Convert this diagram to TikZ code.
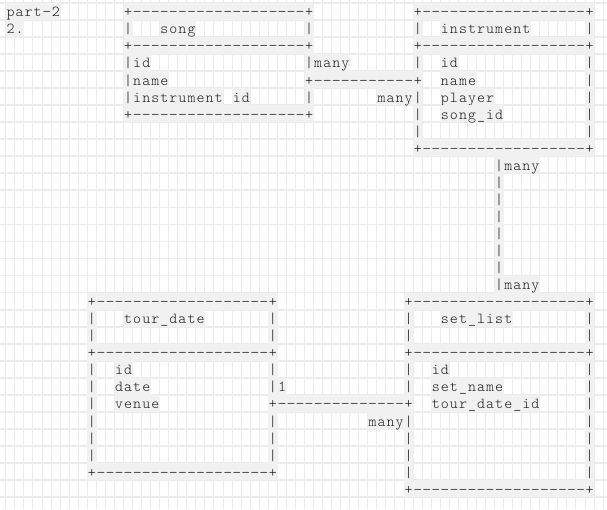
\documentclass[tikz,border=0pt]{standalone}
\usepackage{fontspec}
\usepackage{graphicx}
\font\cellfont="[lmmonolt10-regular]" at 15.2pt
\definecolor{gridc}{HTML}{ECECEC}
\definecolor{band}{HTML}{F1F1F1}
\definecolor{ink}{HTML}{1E1E1E}
\newcommand\cellsA[1]{\ifx\relax#1\else\makebox[9.05pt][c]{#1}\expandafter\cellsA\fi}
\newcommand\cells[1]{\cellsA#1\relax}
\newcommand\dashcells[1]{\ifnum#1>0 \makebox[9.05pt][c]{\scalebox{1.12}[1]{-}}\expandafter\dashcells\expandafter{\the\numexpr#1-1\relax}\fi}
\newcommand\border[1]{\cells{+}\dashcells{#1}\cells{+}}
\newcommand\segnode[4]{\node[seg] (#1) at ({5.8+9.05*#2},{16.8+17.05*#3}) {#4};}
\tikzset{
  seg/.style={anchor=base west, inner sep=0pt, text height=14.03pt, text depth=3.02pt,
    fill=band, text=ink, font=\cellfont},
  gridv/.style={draw=gridc, line width=1pt},
  gridh/.style={draw=gridc, line width=1.7pt}
}
\begin{document}
\begin{tikzpicture}[x=1pt,y=-1pt]
\useasboundingbox (0,0) rectangle (607,509);
\fill[white] (0,0) rectangle (607,509);
% grid paper
\foreach \k in {0,...,66} \draw[gridv] ({5.8+9.05*\k},0) -- ({5.8+9.05*\k},509);
\foreach \r in {-1,...,28} \draw[gridh] (0,{19.825+17.05*\r}) -- (607,{19.825+17.05*\r});
% heading
\segnode{pt}{0}{0}{\cells{part}\dashcells{1}\cells{2}}
\segnode{num}{0}{1}{\cells{2.}}
% song table
\segnode{songTop}{13}{0}{\border{19}}
\segnode{songL1}{13}{1}{\cells{|}}
\segnode{songTitle}{17}{1}{\cells{song}}
\segnode{songR1}{33}{1}{\cells{|}}
\segnode{songMid}{13}{2}{\border{19}}
\segnode{songL3}{13}{3}{\cells{|}}
\segnode{songId}{14}{3}{\cells{id}}
\segnode{songR3}{33}{3}{\cells{|many}}
\segnode{songL4}{13}{4}{\cells{|}}
\segnode{songName}{14}{4}{\cells{name}}
\segnode{linkSI}{33}{4}{\border{11}}
\segnode{songL5}{13}{5}{\cells{|}}
\segnode{songInst}{14}{5}{\cells{instrument}}
\segnode{songInstId}{25}{5}{\cells{id}}
\segnode{songR5}{33}{5}{\cells{|}}
\segnode{manySI}{41}{5}{\cells{many|}}
\segnode{songBot}{13}{6}{\border{19}}
% instrument table
\segnode{instTop}{45}{0}{\border{18}}
\segnode{instL1}{45}{1}{\cells{|}}
\segnode{instTitle}{48}{1}{\cells{instrument}}
\segnode{instR1}{64}{1}{\cells{|}}
\segnode{instMid}{45}{2}{\border{18}}
\segnode{instL3}{45}{3}{\cells{|}}
\segnode{instId}{48}{3}{\cells{id}}
\segnode{instR3}{64}{3}{\cells{|}}
\segnode{instName}{48}{4}{\cells{name}}
\segnode{instR4}{64}{4}{\cells{|}}
\segnode{instPlayer}{48}{5}{\cells{player}}
\segnode{instR5}{64}{5}{\cells{|}}
\segnode{instL6}{45}{6}{\cells{|}}
\segnode{instSong}{48}{6}{\cells{song\_id}}
\segnode{instR6}{64}{6}{\cells{|}}
\segnode{instL7}{45}{7}{\cells{|}}
\segnode{instR7}{64}{7}{\cells{|}}
\segnode{instBot}{45}{8}{\border{18}}
% vertical link instrument - set_list
\segnode{vA}{54}{9}{\cells{|many}}
\foreach \r in {10,...,15} {\segnode{v\r}{54}{\r}{\cells{|}}}
\segnode{vB}{54}{16}{\cells{|many}}
% tour_date table
\segnode{tdTop}{9}{17}{\border{19}}
\segnode{tdL18}{9}{18}{\cells{|}}
\segnode{tdTitle}{13}{18}{\cells{tour\_date}}
\segnode{tdR18}{29}{18}{\cells{|}}
\segnode{tdL19}{9}{19}{\cells{|}}
\segnode{tdR19}{29}{19}{\cells{|}}
\segnode{tdMid}{9}{20}{\border{19}}
\segnode{tdL21}{9}{21}{\cells{|}}
\segnode{tdId}{12}{21}{\cells{id}}
\segnode{tdR21}{29}{21}{\cells{|}}
\segnode{tdL22}{9}{22}{\cells{|}}
\segnode{tdDate}{12}{22}{\cells{date}}
\segnode{tdR22}{29}{22}{\cells{|1}}
\segnode{tdL23}{9}{23}{\cells{|}}
\segnode{tdVenue}{12}{23}{\cells{venue}}
\segnode{linkTS}{29}{23}{\border{14}}
\segnode{tdL24}{9}{24}{\cells{|}}
\segnode{tdR24}{29}{24}{\cells{|}}
\segnode{manyTS}{40}{24}{\cells{many|}}
\foreach \r in {25,26} {\segnode{tdL\r}{9}{\r}{\cells{|}}\segnode{tdR\r}{29}{\r}{\cells{|}}}
\segnode{tdBot}{9}{27}{\border{19}}
% set_list table
\segnode{slTop}{44}{17}{\border{19}}
\segnode{slL18}{44}{18}{\cells{|}}
\segnode{slTitle}{48}{18}{\cells{set\_list}}
\segnode{slR18}{64}{18}{\cells{|}}
\segnode{slL19}{44}{19}{\cells{|}}
\segnode{slR19}{64}{19}{\cells{|}}
\segnode{slMid}{44}{20}{\border{19}}
\segnode{slL21}{44}{21}{\cells{|}}
\segnode{slId}{47}{21}{\cells{id}}
\segnode{slR21}{64}{21}{\cells{|}}
\segnode{slL22}{44}{22}{\cells{|}}
\segnode{slName}{47}{22}{\cells{set\_name}}
\segnode{slR22}{64}{22}{\cells{|}}
\segnode{slTdId}{47}{23}{\cells{tour\_date\_id}}
\segnode{slR23}{64}{23}{\cells{|}}
\segnode{slR24}{64}{24}{\cells{|}}
\foreach \r in {25,26,27} {\segnode{slL\r}{44}{\r}{\cells{|}}\segnode{slR\r}{64}{\r}{\cells{|}}}
\segnode{slBot}{44}{28}{\border{19}}
\end{tikzpicture}
\end{document}
